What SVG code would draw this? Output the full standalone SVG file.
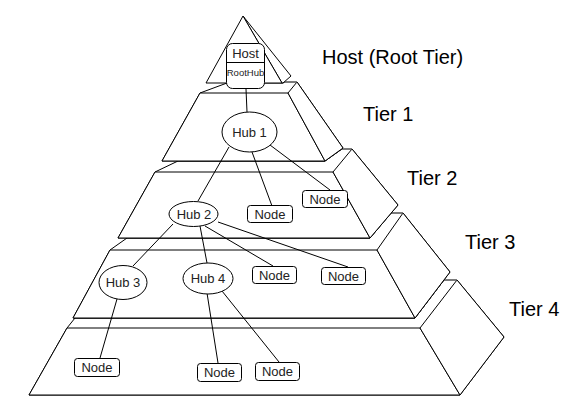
<svg xmlns="http://www.w3.org/2000/svg" width="582" height="408" viewBox="0 0 582 408">
<style>
.f{fill:#fff;stroke:#000;stroke-width:1;stroke-linejoin:round}
.ln{fill:none;stroke:#000;stroke-width:1}
.gl{fill:none;stroke:#777;stroke-width:1}
.lbl{font-family:"Liberation Sans",Arial,sans-serif;font-size:20px;fill:#000}
.t{font-family:"Liberation Sans",Arial,sans-serif;font-size:13px;fill:#222;text-anchor:middle}
.nd{fill:#fff;stroke:#000;stroke-width:1}
</style>
<rect width="582" height="408" fill="#fff"/>
<g id="tier4">
<polygon class="f" points="67,328 75,318 415,318 444,280 457,280 504,337 460,395 29,395"/>
<polygon class="f" points="67,328 420,328 460,395 29,395"/>
<polygon class="f" points="420,328 457,280 504,337 460,395"/>
<line class="gl" x1="444" y1="280" x2="457" y2="280"/>
<text class="lbl" x="509" y="316">Tier 4</text>
</g>
<g id="tier3">
<polygon class="f" points="110,250 127,238 370,238 391,213 403,213 450,272 415,318 73,318"/>
<polygon class="f" points="110,250 377,250 415,318 73,318"/>
<polygon class="f" points="377,250 403,213 450,272 415,318"/>
<line class="gl" x1="391" y1="213" x2="403" y2="213"/>
<text class="lbl" x="465" y="249">Tier 3</text>
</g>
<g id="tier2">
<polygon class="f" points="155,172 178,161 325,161 342,149 352,149 398,205 370,238 118,238"/>
<polygon class="f" points="155,172 333,172 370,238 118,238"/>
<polygon class="f" points="333,172 352,149 398,205 370,238"/>
<line class="gl" x1="342" y1="149" x2="352" y2="149"/>
<text class="lbl" x="407" y="185">Tier 2</text>
</g>
<g id="tier1">
<polygon class="f" points="200,93 227,83 283,83 285,82 297,82 343,148 325,161 162,161"/>
<polygon class="f" points="200,93 288,93 325,161 162,161"/>
<polygon class="f" points="288,93 297,82 343,148 325,161"/>
<line class="gl" x1="284" y1="82" x2="297" y2="82"/>
<text class="lbl" x="363" y="121">Tier 1</text>
</g>
<g id="root-tier">
<polygon class="f" points="243,16 291,76 283,83 282,83"/>
<polygon class="f" points="243,16 282,83 206,83"/>
<text class="lbl" x="322" y="64">Host (Root Tier)</text>
</g>
<g id="connectors">
<line class="ln" x1="246" y1="89" x2="247" y2="112"/>
<line class="ln" x1="229" y1="147" x2="198" y2="201"/>
<line class="ln" x1="252" y1="152" x2="272" y2="206"/>
<line class="ln" x1="270" y1="145" x2="330" y2="190"/>
<line class="ln" x1="173" y1="224" x2="133" y2="266"/>
<line class="ln" x1="200" y1="226" x2="207" y2="263"/>
<line class="ln" x1="205" y1="226" x2="273" y2="266"/>
<line class="ln" x1="218" y1="222" x2="348" y2="267"/>
<line class="ln" x1="117" y1="299" x2="100" y2="358"/>
<line class="ln" x1="207" y1="293" x2="218" y2="363"/>
<line class="ln" x1="222" y1="291" x2="279" y2="362"/>
</g>
<g id="host">
<rect class="nd" x="226.5" y="43.5" width="38" height="45" rx="6"/>
<line class="ln" x1="226.5" y1="62.5" x2="264.5" y2="62.5"/>
<text class="t" x="245.5" y="58" style="font-size:13px">Host</text>
<text class="t" x="245.5" y="76" style="font-size:9.5px">RootHub</text>
</g>
<g id="hub1">
<ellipse class="nd" cx="249.5" cy="132" rx="27.5" ry="20"/>
<text class="t" x="249.5" y="136.5">Hub 1</text>
</g>
<g id="hub2">
<ellipse class="nd" cx="193.5" cy="214" rx="24.5" ry="12.5"/>
<text class="t" x="194" y="218.5">Hub 2</text>
</g>
<g id="hub3">
<ellipse class="nd" cx="123" cy="282.5" rx="24" ry="17"/>
<text class="t" x="123" y="287">Hub 3</text>
</g>
<g id="hub4">
<ellipse class="nd" cx="208" cy="278.5" rx="25" ry="15.5"/>
<text class="t" x="208" y="283">Hub 4</text>
</g>
<g id="node-t2a">
<rect class="nd" x="247.5" y="205.5" width="45" height="17" rx="3"/>
<text class="t" x="270" y="218.5">Node</text>
</g>
<g id="node-t2b">
<rect class="nd" x="302.5" y="190.5" width="45" height="17" rx="3"/>
<text class="t" x="325" y="203.5">Node</text>
</g>
<g id="node-t3a">
<rect class="nd" x="252.5" y="266.5" width="44" height="17" rx="3"/>
<text class="t" x="274.5" y="279.5">Node</text>
</g>
<g id="node-t3b">
<rect class="nd" x="321.5" y="267.5" width="44" height="17" rx="3"/>
<text class="t" x="343.5" y="280.5">Node</text>
</g>
<g id="node-t4a">
<rect class="nd" x="74.5" y="358.5" width="45" height="18" rx="3"/>
<text class="t" x="97" y="372">Node</text>
</g>
<g id="node-t4b">
<rect class="nd" x="197.5" y="363.5" width="44" height="18" rx="3"/>
<text class="t" x="219.5" y="377">Node</text>
</g>
<g id="node-t4c">
<rect class="nd" x="255.5" y="362.5" width="44" height="18" rx="3"/>
<text class="t" x="277.5" y="376">Node</text>
</g>
</svg>
